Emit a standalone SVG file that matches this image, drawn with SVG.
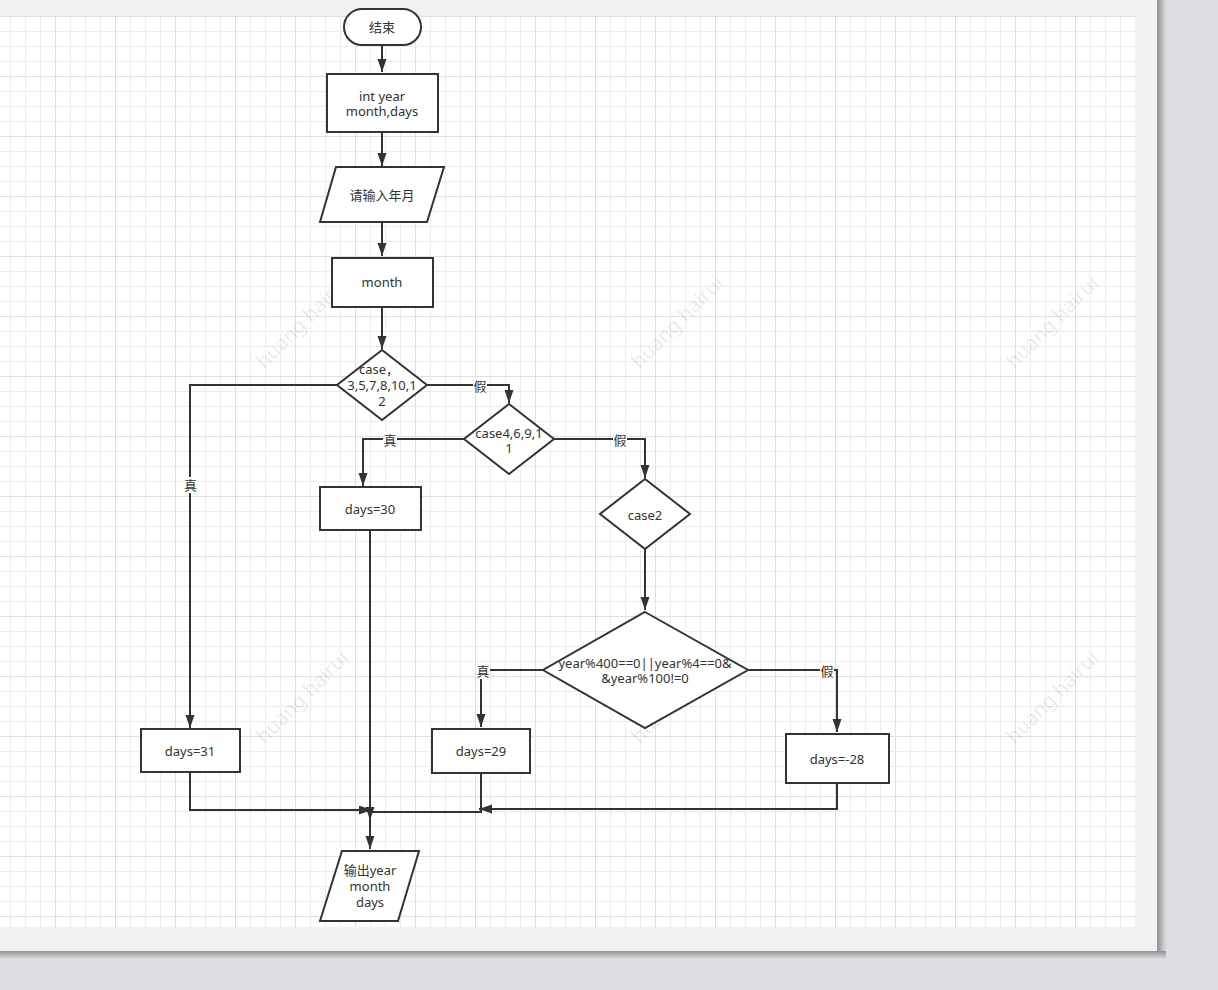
<svg xmlns="http://www.w3.org/2000/svg" width="1218" height="990" viewBox="0 0 1218 990">
<style>
.n{fill:#fff;stroke:#333;stroke-width:2}
.e{fill:none;stroke:#333;stroke-width:2}
.t{font-family:"Noto Sans","Noto Sans CJK SC",sans-serif;font-size:13px;fill:#333;text-anchor:middle}
.l{font-family:"Noto Sans CJK SC",sans-serif;font-size:13px;fill:#333;text-anchor:middle}
.lb{fill:#fff}
.wm{font-family:"Noto Sans",sans-serif;font-size:20px;fill:#000;fill-opacity:0.09;text-anchor:middle}
</style>
<defs>
<pattern id="grid" patternUnits="userSpaceOnUse" x="-5" y="16" width="60" height="60">
<rect x="0" y="0" width="60" height="60" fill="#fff"/>
<rect x="15" y="0" width="1" height="60" fill="#ececec"/>
<rect x="30" y="0" width="1" height="60" fill="#ececec"/>
<rect x="45" y="0" width="1" height="60" fill="#ececec"/>
<rect x="0" y="15" width="60" height="1" fill="#ececec"/>
<rect x="0" y="30" width="60" height="1" fill="#ececec"/>
<rect x="0" y="45" width="60" height="1" fill="#ececec"/>
<rect x="0" y="0" width="1" height="60" fill="#e0e0e0"/>
<rect x="0" y="0" width="60" height="1" fill="#e0e0e0"/>
</pattern>
<linearGradient id="shR" x1="0" y1="0" x2="1" y2="0">
<stop offset="0" stop-color="#000" stop-opacity="0.35"/>
<stop offset="1" stop-color="#000" stop-opacity="0"/>
</linearGradient>
<linearGradient id="shB" x1="0" y1="0" x2="0" y2="1">
<stop offset="0" stop-color="#000" stop-opacity="0.35"/>
<stop offset="1" stop-color="#000" stop-opacity="0"/>
</linearGradient>
<marker id="ah" markerUnits="userSpaceOnUse" markerWidth="14" markerHeight="10" refX="13" refY="4.5" orient="auto">
<path d="M0,0 L13,4.5 L0,9 z" fill="#333"/>
</marker>
</defs>
<g id="background">
<rect x="0" y="0" width="1218" height="990" fill="#dcdde1"/>
<rect x="1157" y="0" width="9" height="951" fill="url(#shR)"/>
<rect x="0" y="951" width="1166" height="8" fill="url(#shB)"/>
<rect x="0" y="0" width="1157" height="951" fill="#f2f2f2"/>
<rect x="0" y="16" width="1135" height="911" fill="url(#grid)"/>
</g>
<g id="watermarks">
<text class="wm" transform="translate(307,327) rotate(-45)">huang hairui</text>
<text class="wm" transform="translate(682,327) rotate(-45)">huang hairui</text>
<text class="wm" transform="translate(1057,327) rotate(-45)">huang hairui</text>
<text class="wm" transform="translate(307,702) rotate(-45)">huang hairui</text>
<text class="wm" transform="translate(682,702) rotate(-45)">huang hairui</text>
<text class="wm" transform="translate(1057,702) rotate(-45)">huang hairui</text>
</g>
<g id="connectors">
<path class="e" d="M382,45 V72" marker-end="url(#ah)"/>
<path class="e" d="M382,132 V166" marker-end="url(#ah)"/>
<path class="e" d="M382,222 V256" marker-end="url(#ah)"/>
<path class="e" d="M382,307 V349" marker-end="url(#ah)"/>
<path class="e" d="M337,385 H190 V728" marker-end="url(#ah)"/>
<path class="e" d="M427,385 H509 V403" marker-end="url(#ah)"/>
<path class="e" d="M464,439 H363 V486" marker-end="url(#ah)"/>
<path class="e" d="M554,439 H645 V478" marker-end="url(#ah)"/>
<path class="e" d="M645,549 V610" marker-end="url(#ah)"/>
<path class="e" d="M543,670 H481 V727" marker-end="url(#ah)"/>
<path class="e" d="M748,670 H837 V732" marker-end="url(#ah)"/>
<path class="e" d="M370,530 V820" marker-end="url(#ah)"/>
<path class="e" d="M481,773 V812 H370 V849" marker-end="url(#ah)"/>
<path class="e" d="M190,772 V810 H372" marker-end="url(#ah)"/>
<path class="e" d="M837,783 V809 H479" marker-end="url(#ah)"/>
<rect class="lb" x="184" y="477" width="13" height="16"/>
<text class="l" x="190.5" y="490">真</text>
<rect class="lb" x="473" y="378" width="14" height="16"/>
<text class="l" x="480" y="391">假</text>
<rect class="lb" x="383" y="432" width="14" height="16"/>
<text class="l" x="390" y="445">真</text>
<rect class="lb" x="613" y="432" width="14" height="16"/>
<text class="l" x="620" y="445">假</text>
<rect class="lb" x="476" y="663" width="14" height="16"/>
<text class="l" x="483" y="676">真</text>
<rect class="lb" x="820" y="663" width="14" height="16"/>
<text class="l" x="827" y="676">假</text>
</g>
<g id="end">
<rect class="n" x="344" y="9" width="77" height="36" rx="18" ry="18"/>
<text class="t" x="382" y="31.5">结束</text>
</g>
<g id="declare">
<rect class="n" x="327" y="74" width="111" height="58"/>
<text class="t" x="382" y="100.5">int year</text>
<text class="t" x="382" y="116">month,days</text>
</g>
<g id="input">
<polygon class="n" points="336,167 444,167 427,222 320,222"/>
<text class="t" x="382" y="199.5">请输入年月</text>
</g>
<g id="month">
<rect class="n" x="332" y="258" width="101" height="49"/>
<text class="t" x="382" y="287">month</text>
</g>
<g id="case1">
<polygon class="n" points="382,350 427,385 382,420 337,385"/>
<text class="t" x="379" y="374">case，</text>
<text class="t" x="382" y="390">3,5,7,8,10,1</text>
<text class="t" x="382" y="406">2</text>
</g>
<g id="case2">
<polygon class="n" points="509,404 554,439 509,474 464,439"/>
<text class="t" x="509" y="437.5">case4,6,9,1</text>
<text class="t" x="509" y="453">1</text>
</g>
<g id="days30">
<rect class="n" x="320" y="487" width="101" height="43"/>
<text class="t" x="370" y="513.5">days=30</text>
</g>
<g id="case3">
<polygon class="n" points="645,479 690,514 645,549 600,514"/>
<text class="t" x="645" y="519.5">case2</text>
</g>
<g id="leap">
<polygon class="n" points="645,612 748,670 645,728 543,670"/>
<text class="t" x="645" y="667.5">year%400==0||year%4==0&amp;</text>
<text class="t" x="645" y="683">&amp;year%100!=0</text>
</g>
<g id="days31">
<rect class="n" x="141" y="729" width="99" height="43"/>
<text class="t" x="190" y="756">days=31</text>
</g>
<g id="days29">
<rect class="n" x="432" y="729" width="98" height="44"/>
<text class="t" x="481" y="756">days=29</text>
</g>
<g id="days28">
<rect class="n" x="786" y="734" width="103" height="49"/>
<text class="t" x="837" y="764">days=-28</text>
</g>
<g id="output">
<polygon class="n" points="342,851 419,851 398,921 320,921"/>
<text class="t" x="370" y="875">输出year</text>
<text class="t" x="370" y="890.5">month</text>
<text class="t" x="370" y="907">days</text>
</g>
</svg>
